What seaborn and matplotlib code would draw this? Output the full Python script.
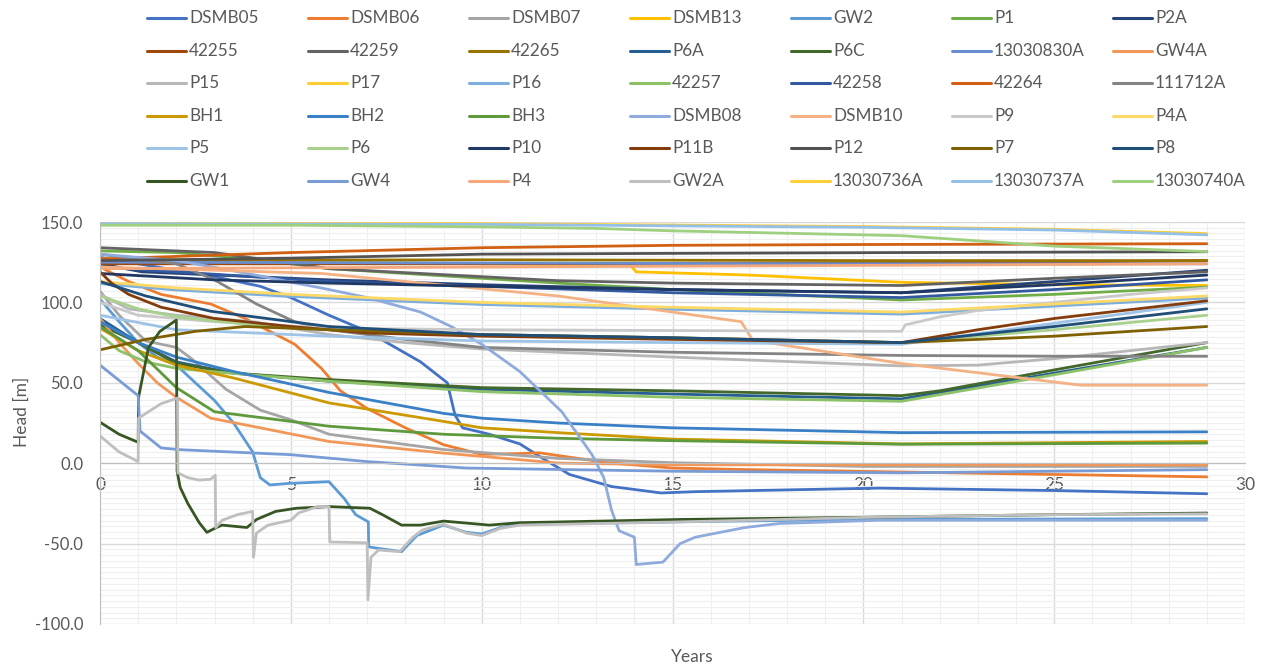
import matplotlib
matplotlib.use("Agg")
import matplotlib.pyplot as plt
from matplotlib.lines import Line2D
import numpy as np
import pandas as pd
import seaborn as sns

# ---- bore names (legend order) and colours ----
names = ["DSMB05", "DSMB06", "DSMB07", "DSMB13", "GW2", "P1", "P2A",
         "42255", "42259", "42265", "P6A", "P6C", "13030830A", "GW4A",
         "P15", "P17", "P16", "42257", "42258", "42264", "111712A",
         "BH1", "BH2", "BH3", "DSMB08", "DSMB10", "P9", "P4A",
         "P5", "P6", "P10", "P11B", "P12", "P7", "P8",
         "GW1", "GW4", "P4", "GW2A", "13030736A", "13030737A", "13030740A"]
colors = ["#4472C4", "#ED7D31", "#A5A5A5", "#FFC000", "#5B9BD5", "#70AD47", "#264478",
          "#9E480E", "#636363", "#997300", "#255E91", "#43682B", "#698ED0", "#F1975A",
          "#B7B7B7", "#FFCD33", "#7CAFDD", "#8CC168", "#335AA1", "#D26012", "#848484",
          "#CC9A00", "#3A80C6", "#5E9A3C", "#8FAADC", "#F4B183", "#C9C9C9", "#FFD966",
          "#9DC3E6", "#A9D18E", "#203864", "#843C0C", "#525252", "#7F6000", "#1F4E79",
          "#375623", "#7A9CD6", "#F5A77A", "#BFBFBF", "#FFCF3A", "#94C0E8", "#9FCF80"]

# ---- simulated heads: time [years] and head [m] per bore ----
t_DSMB05 = [0, 1, 2, 3, 4.2, 5, 6, 7, 8.4, 9.1, 9.3, 9.5, 10.2, 11, 11.6, 12.3, 13.4, 14.7, 15.6, 20.4, 25, 29]
h_DSMB05 = [128, 124, 120, 116, 110, 103, 92, 82, 63, 50, 30, 22, 18, 12, 3, -7, -14.5, -18.5, -17.7, -15.5, -17, -19]
t_DSMB06 = [0, 0.75, 1.6, 2.9, 3.8, 5.1, 5.8, 6.3, 7, 8, 9, 10, 11, 11.5, 13.3, 15, 17, 20.5, 25, 29]
h_DSMB06 = [122, 113, 105, 99, 90, 74, 59, 45, 34, 22, 11.5, 5.5, 6, 6.5, 0.3, -3, -4, -5.3, -7, -8.5]
t_DSMB07 = [0, 0.5, 1.2, 2, 2.4, 3.3, 4.2, 5, 6, 9, 12, 15, 20, 29]
h_DSMB07 = [107, 92, 76, 72, 65, 46, 33, 27, 18, 8.5, 3, 0.3, -2, -2]
t_DSMB13 = [0, 5, 10, 13.9, 14.05, 17, 21, 25, 29]
h_DSMB13 = [127, 125.5, 124, 123, 119, 117, 112.5, 111, 110.5]
t_GW2 = [0, 0.5, 1.0, 1.5, 2.0, 2.5, 3.0, 3.5, 4.0, 4.2, 4.45, 5, 6, 6.4, 6.7, 7.03, 7.04,
         7.3, 7.9, 8.3, 9, 9.6, 10, 10.5, 11, 15, 20, 29]
h_GW2 = [102, 88, 75, 66, 61, 50, 39, 25, 7, -9, -13.5, -12.5, -11.5, -22, -32, -36.5, -52,
         -53, -55, -45, -38.5, -43, -44, -40, -38, -36.5, -35, -34.5]
t_P1 = [0, 2, 4, 6, 10, 12, 15, 21, 25, 29]
h_P1 = [132, 131, 127, 121, 115, 112, 108, 101.5, 105, 109.5]
t_P2A = [0, 1.1, 6, 10, 15, 21, 25, 29]
h_P2A = [124, 119, 114, 111, 108, 106, 113, 120]
t_42255 = [0, 10, 20, 25, 29]
h_42255 = [124, 124, 124.5, 125, 126]
t_42259 = [0, 3, 6, 10, 12, 15, 21, 25, 29]
h_42259 = [134, 131, 121, 116, 113.5, 112, 110.5, 115, 119]
t_42265 = [0, 10, 20, 29]
h_42265 = [126, 126.5, 126, 126]
t_P6A = [0, 1, 2, 3.5, 6, 10, 15, 21, 25, 29]
h_P6A = [90, 75, 63, 56, 51, 46, 43, 40, 56, 72]
t_P6C = [0, 1, 2, 3.5, 6, 10, 15, 21, 22, 25, 29]
h_P6C = [86, 75, 62, 56, 52, 47, 45, 42, 45, 58, 75]
t_13030830A = [0, 10, 20, 29]
h_13030830A = [125, 124.5, 124, 124]
t_GW4A = [0, 0.5, 1, 1.5, 2, 2.9, 4.2, 6, 9, 12, 15, 20, 29]
h_GW4A = [90, 75, 62, 50, 41, 28, 22, 13.5, 6.3, 0.1, -1, -1, -1]
t_P15 = [0, 0.75, 2, 4, 6, 8, 10, 15, 21, 23, 25, 27, 29]
h_P15 = [105, 96, 92, 88, 80, 75, 71, 66, 60.5, 61, 65, 70, 75]
t_P17 = [0, 2, 5, 10, 15, 21, 25, 29]
h_P17 = [112.5, 108.5, 104.5, 99.5, 96.5, 93.5, 98.5, 103.5]
t_P16 = [0, 2, 5, 10, 15, 21, 25, 29]
h_P16 = [111.7, 107.7, 103.7, 98.7, 95.7, 92.7, 97.7, 102.7]
t_42257 = [0, 0.5, 1.2, 2, 3.4, 6, 10, 15, 21, 25, 29]
h_42257 = [80, 70, 63, 59, 56, 51, 44.5, 41, 38.5, 55, 72]
t_42258 = [0, 6, 10, 15, 21, 25, 29]
h_42258 = [122, 113, 110, 106, 103, 108, 114]
t_42264 = [0, 5, 10, 15, 20, 29]
h_42264 = [127, 131, 134, 135.5, 136, 136.5]
t_111712A = [0, 2, 3, 4.1, 5.1, 6, 8, 10, 15, 21, 25, 29]
h_111712A = [130, 124, 114, 99, 88, 83, 77, 72, 69, 67, 66.5, 66.5]
t_BH1 = [0, 1, 2, 3.5, 6, 9, 10, 12, 15, 21, 29]
h_BH1 = [84, 70, 61, 53, 37.5, 26, 22, 19, 15, 12, 13.5]
t_BH2 = [0, 1, 2, 3.5, 6, 9, 10, 12, 15, 21, 29]
h_BH2 = [88, 75, 66, 57, 44, 31, 28, 25, 22, 19, 19.5]
t_BH3 = [0, 1, 2, 3, 4, 6, 9, 12, 15, 21, 29]
h_BH3 = [85, 70, 47, 32, 29, 23, 18, 15.5, 14, 11.8, 12.5]
t_DSMB08 = [0, 2, 3.2, 6, 7, 8.4, 9.2, 10, 11, 12.1, 12.9, 13.2, 13.4, 13.6, 14.0, 14.05,
            14.75, 15.2, 15.6, 16.9, 17.8, 20.4, 29]
h_DSMB08 = [130, 126, 121, 108, 103, 94, 85, 74, 57, 32, 5, -9, -29, -42, -46, -63,
            -61.5, -50, -46, -40, -37.5, -35.5, -35.5]
t_DSMB10 = [0, 3, 5.8, 10, 12, 16.8, 17.1, 21, 25.7, 29]
h_DSMB10 = [122, 120, 118, 108.5, 104, 88, 76.5, 62, 48.5, 48.5]
t_P9 = [0, 1, 3, 6, 10, 15, 21, 21.1, 22, 23, 25, 27, 29]
h_P9 = [100, 92, 88, 84, 83, 82.5, 82, 86, 91, 95, 100, 105, 109]
t_P4A = [0, 2, 5, 10, 15, 21, 25, 29]
h_P4A = [113, 109, 105, 100, 97, 94, 99, 104]
t_P5 = [0, 2, 6, 10, 15, 21, 25, 29]
h_P5 = [92, 83, 79, 76, 75, 74, 87, 100]
t_P6 = [0, 1, 2, 4, 6, 10, 15, 21, 25, 29]
h_P6 = [104, 96, 91, 86, 83, 80, 78, 75, 83, 92]
t_P10 = [0, 3, 6, 10, 15, 21, 25, 29]
h_P10 = [118, 114, 112, 110, 108, 106, 111, 117]
t_P11B = [0, 0.3, 0.75, 1.6, 3, 5, 7, 10, 15, 21, 23, 25, 29]
h_P11B = [119, 112, 105, 97, 90, 85, 81, 79, 77, 75, 83, 90, 101]
t_P12 = [0, 5, 10, 15, 21, 29]
h_P12 = [126, 127.5, 130, 130.5, 131, 131.5]
t_P7 = [0, 1.2, 2.5, 3.8, 6, 10, 15, 21, 25, 29]
h_P7 = [70.5, 77, 82, 85, 83, 80, 78, 75, 79, 85]
t_P8 = [0, 1.2, 2.9, 6, 10, 15, 21, 25, 29]
h_P8 = [113, 104, 94.5, 85, 80, 78, 75, 85, 96]
t_GW1 = [0, 0.5, 1.0, 1.01, 1.27, 1.57, 2.0, 2.02, 2.1, 2.3, 2.6, 2.8, 3.05, 3.2, 3.85, 4.1,
         4.6, 5.15, 6.0, 7.07, 7.4, 7.9, 8.4, 9.0, 10.2, 11, 12.1, 15.2, 20.4, 25, 29]
h_GW1 = [25.5, 18, 13, 41, 72, 82, 89, -5, -15, -25, -37, -43, -40, -38.5, -40, -35,
         -30, -28, -27, -28, -32, -38.5, -38.5, -36, -38.5, -37, -36.5, -35, -33.5, -32, -31]
t_GW4 = [0, 1.0, 1.05, 1.6, 2.1, 5, 7, 9.6, 15, 21, 29]
h_GW4 = [61, 42, 20, 9.5, 8.4, 5.3, 1, -3, -5, -6, -4]
t_P4 = [0, 10, 20, 29]
h_P4 = [121, 122, 123, 124]
t_GW2A = [0, 0.5, 1.0, 1.01, 1.27, 1.6, 2.03, 2.04, 2.3, 2.6, 2.9, 3.02, 3.03, 3.2, 3.6, 4.0,
          4.02, 4.1, 4.4, 5.0, 5.2, 5.7, 6.0, 6.02, 7.0, 7.02, 7.1, 7.3, 7.85, 8.2, 8.45, 9.0,
          9.6, 10.0, 10.5, 11, 15.2, 20.4, 25, 29]
h_GW2A = [17, 7, 1, 28, 32, 37, 40.5, -6, -9, -10.5, -10, -7.5, -40, -35.5, -32, -30,
          -58.5, -43.5, -38.5, -35.5, -31, -27, -27, -49, -49.5, -85, -58.5, -54, -55, -46, -41.5, -38,
          -43.5, -45, -40.5, -38.5, -36.5, -33.5, -32, -31.5]
t_13030736A = [0, 10, 20, 25, 29]
h_13030736A = [149.5, 149, 147.2, 145.5, 142.8]
t_13030737A = [0, 10, 20, 25, 29]
h_13030737A = [149, 148.5, 146.7, 145, 142]
t_13030740A = [0, 5, 10, 13, 15, 21, 25, 29]
h_13030740A = [148, 148, 147, 146, 144.5, 141.5, 135, 131.6]

traces = {
    "DSMB05": (t_DSMB05, h_DSMB05), "DSMB06": (t_DSMB06, h_DSMB06),
    "DSMB07": (t_DSMB07, h_DSMB07), "DSMB13": (t_DSMB13, h_DSMB13),
    "GW2": (t_GW2, h_GW2), "P1": (t_P1, h_P1), "P2A": (t_P2A, h_P2A),
    "42255": (t_42255, h_42255), "42259": (t_42259, h_42259),
    "42265": (t_42265, h_42265), "P6A": (t_P6A, h_P6A), "P6C": (t_P6C, h_P6C),
    "13030830A": (t_13030830A, h_13030830A), "GW4A": (t_GW4A, h_GW4A),
    "P15": (t_P15, h_P15), "P17": (t_P17, h_P17), "P16": (t_P16, h_P16),
    "42257": (t_42257, h_42257), "42258": (t_42258, h_42258),
    "42264": (t_42264, h_42264), "111712A": (t_111712A, h_111712A),
    "BH1": (t_BH1, h_BH1), "BH2": (t_BH2, h_BH2), "BH3": (t_BH3, h_BH3),
    "DSMB08": (t_DSMB08, h_DSMB08), "DSMB10": (t_DSMB10, h_DSMB10),
    "P9": (t_P9, h_P9), "P4A": (t_P4A, h_P4A), "P5": (t_P5, h_P5), "P6": (t_P6, h_P6),
    "P10": (t_P10, h_P10), "P11B": (t_P11B, h_P11B), "P12": (t_P12, h_P12),
    "P7": (t_P7, h_P7), "P8": (t_P8, h_P8), "GW1": (t_GW1, h_GW1), "GW4": (t_GW4, h_GW4),
    "P4": (t_P4, h_P4), "GW2A": (t_GW2A, h_GW2A),
    "13030736A": (t_13030736A, h_13030736A), "13030737A": (t_13030737A, h_13030737A),
    "13030740A": (t_13030740A, h_13030740A),
}

rows = []
for name in names:
    ts, hs = traces[name]
    for k, (t, h) in enumerate(zip(ts, hs)):
        rows.append({"Bore": name, "Years": t, "Head": h, "step": k})
df = pd.DataFrame(rows)
palette = dict(zip(names, colors))

sns.set_style("white")
plt.rcParams["font.family"] = ["Lato", "DejaVu Sans"]
TXT = "#595959"

W, H = 1285, 669
fig = plt.figure(figsize=(W / 100, H / 100), dpi=100)
L, R, T, B = 100, 1245, 222, 624
ax = fig.add_axes([L / W, 1 - B / H, (R - L) / W, (B - T) / H])

sns.lineplot(data=df, x="Years", y="Head", hue="Bore", hue_order=names,
             palette=palette, estimator=None, sort=False, units="Bore",
             linewidth=2.0, legend=False, ax=ax)

ax.set_xlim(0, 30)
ax.set_ylim(-100, 150)
ax.set_xticks(np.arange(0, 31, 5))
ax.set_xticks(np.arange(0, 31, 1), minor=True)
ax.set_yticks(np.arange(-100, 151, 50))
ax.set_yticks(np.linspace(-100, 150, 71), minor=True)
ax.set_yticklabels([f"{v:.1f}" for v in np.arange(-100, 151, 50)])
ax.grid(which="major", color="#D9D9D9", linewidth=1.0)
ax.grid(which="minor", color="#EFEFEF", linewidth=0.8)
ax.set_axisbelow(True)
for s in ("top", "right"):
    ax.spines[s].set_visible(False)
ax.spines["left"].set_color("#BFBFBF")
ax.spines["bottom"].set_color("#BFBFBF")
ax.spines["bottom"].set_position(("data", 0))
ax.tick_params(which="both", length=0)
ax.tick_params(axis="y", pad=12, labelsize=12, labelcolor=TXT)
ax.tick_params(axis="x", pad=10, labelsize=12.5, labelcolor=TXT)
ax.set_xlabel("")
ax.set_ylabel("")
fig.text(692 / W, 1 - 657 / H, "Years", ha="center", va="center", fontsize=12.5, color=TXT)
fig.text(22 / W, 1 - 412 / H, "Head [m]", ha="center", va="center", rotation=90,
         fontsize=12.5, color=TXT)

# legend laid out row by row, seven entries per row
x0, dx, y0, dy, hl = 147, 161.0, 18, 32.6, 39
for k, name in enumerate(names):
    r, c = divmod(k, 7)
    xs = x0 + c * dx
    yy = 1 - (y0 + r * dy) / H
    fig.add_artist(Line2D([xs / W, (xs + hl) / W], [yy, yy], color=palette[name],
                          linewidth=2.2, transform=fig.transFigure))
    fig.text((xs + hl + 3) / W, yy, name, ha="left", va="center", fontsize=12.3, color=TXT)

fig.savefig("out.png", dpi=100, facecolor="white")
